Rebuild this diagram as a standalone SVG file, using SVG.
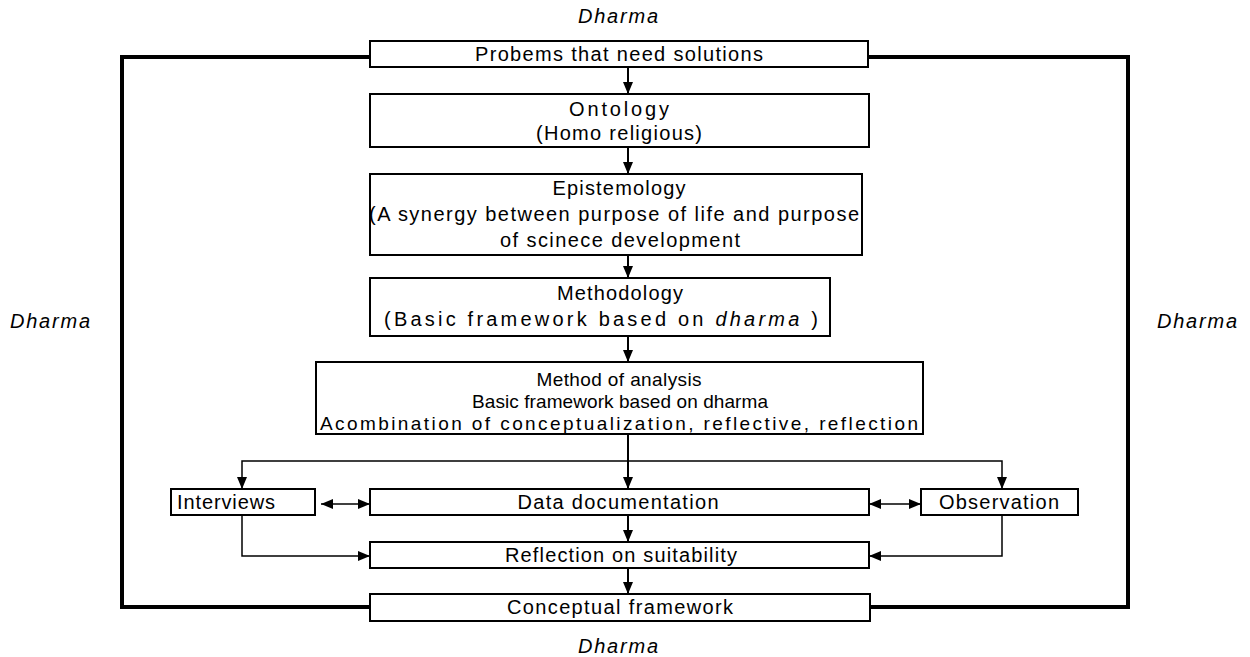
<svg xmlns="http://www.w3.org/2000/svg" width="1250" height="657" viewBox="0 0 1250 657">
<style>
.box{fill:#fff;stroke:#000;stroke-width:2}
.t{font-family:"Liberation Sans",Arial,sans-serif;font-size:20px;fill:#000;text-anchor:middle}
.s{font-size:19px}
.l{text-anchor:start}
.i{font-style:italic}
.frame{fill:none;stroke:#000;stroke-width:4}
.c{fill:none;stroke:#000;stroke-width:2}
.c2{fill:none;stroke:#000;stroke-width:1.5}
</style>
<defs>
<marker id="ah" viewBox="0 0 12 10" refX="12" refY="5" markerWidth="12" markerHeight="10" markerUnits="userSpaceOnUse" orient="auto-start-reverse">
<path d="M0,0 L12,5 L0,10 z" fill="#000"/>
</marker>
</defs>
<rect width="1250" height="657" fill="#fff"/>
<g id="frame">
<path class="frame" d="M370,57 H122 V607 H370 M868,57 H1128 V607 H870"/>
</g>
<g id="labels">
<text class="t i" x="618" y="23" textLength="80" lengthAdjust="spacing">Dharma</text>
<text class="t i" x="50" y="328" textLength="80" lengthAdjust="spacing">Dharma</text>
<text class="t i" x="1197" y="328" textLength="80" lengthAdjust="spacing">Dharma</text>
<text class="t i" x="618" y="653" textLength="80" lengthAdjust="spacing">Dharma</text>
</g>
<g id="connectors">
<line class="c" x1="628" y1="67" x2="628" y2="94" marker-end="url(#ah)"/>
<line class="c" x1="628" y1="147" x2="628" y2="174" marker-end="url(#ah)"/>
<line class="c" x1="628" y1="255" x2="628" y2="278" marker-end="url(#ah)"/>
<line class="c" x1="628" y1="336" x2="628" y2="362" marker-end="url(#ah)"/>
<line class="c" x1="628" y1="434" x2="628" y2="489" marker-end="url(#ah)"/>
<path class="c2" d="M242,489 V461 H1002 V489" marker-start="url(#ah)" marker-end="url(#ah)"/>
<line class="c2" x1="321" y1="504" x2="370" y2="504" marker-start="url(#ah)" marker-end="url(#ah)"/>
<line class="c2" x1="869" y1="504" x2="921" y2="504" marker-start="url(#ah)" marker-end="url(#ah)"/>
<line class="c" x1="628" y1="515" x2="628" y2="542" marker-end="url(#ah)"/>
<line class="c" x1="628" y1="568" x2="628" y2="594" marker-end="url(#ah)"/>
<path class="c2" d="M242,515 V556 H370" marker-end="url(#ah)"/>
<path class="c2" d="M1002,515 V556 H869" marker-end="url(#ah)"/>
</g>
<g id="problems">
<rect class="box" x="370" y="41" width="498" height="26"/>
<text class="t" x="619" y="61" textLength="288" lengthAdjust="spacing">Probems that need solutions</text>
</g>
<g id="ontology">
<rect class="box" x="370" y="94" width="499" height="53"/>
<text class="t" x="619" y="116" textLength="100" lengthAdjust="spacing">Ontology</text>
<text class="t" x="619" y="140" textLength="166" lengthAdjust="spacing">(Homo religious)</text>
</g>
<g id="epistemology">
<rect class="box" x="370" y="174" width="492" height="81"/>
<text class="t" x="619" y="195" textLength="133" lengthAdjust="spacing">Epistemology</text>
<text class="t" x="614" y="221" textLength="490" lengthAdjust="spacing">(A synergy between purpose of life and purpose</text>
<text class="t" x="620" y="247" textLength="240" lengthAdjust="spacing">of scinece development</text>
</g>
<g id="methodology">
<rect class="box" x="370" y="278" width="460" height="58"/>
<text class="t" x="620" y="300" textLength="126" lengthAdjust="spacing">Methodology</text>
<text class="t" x="601" y="326" textLength="434" lengthAdjust="spacing">(Basic framework based on <tspan class="i">dharma</tspan> )</text>
</g>
<g id="method-of-analysis">
<rect class="box" x="316" y="362" width="607" height="72"/>
<text class="t s" x="619" y="386" textLength="165" lengthAdjust="spacing">Method of analysis</text>
<text class="t s" x="620" y="408" textLength="296" lengthAdjust="spacing">Basic framework based on dharma</text>
<text class="t s" x="619" y="430" textLength="598" lengthAdjust="spacing">Acombination of conceptualization, reflective, reflection</text>
</g>
<g id="interviews">
<rect class="box" x="171" y="489" width="144" height="26"/>
<text class="t l" x="177" y="509" textLength="98" lengthAdjust="spacing">Interviews</text>
</g>
<g id="data-documentation">
<rect class="box" x="370" y="489" width="499" height="26"/>
<text class="t" x="618" y="509" textLength="201" lengthAdjust="spacing">Data documentation</text>
</g>
<g id="observation">
<rect class="box" x="921" y="489" width="157" height="26"/>
<text class="t" x="999" y="509" textLength="120" lengthAdjust="spacing">Observation</text>
</g>
<g id="reflection">
<rect class="box" x="370" y="542" width="499" height="26"/>
<text class="t" x="621" y="562" textLength="232" lengthAdjust="spacing">Reflection on suitability</text>
</g>
<g id="conceptual">
<rect class="box" x="370" y="594" width="500" height="27"/>
<text class="t" x="620" y="614" textLength="226" lengthAdjust="spacing">Conceptual framework</text>
</g>
</svg>
